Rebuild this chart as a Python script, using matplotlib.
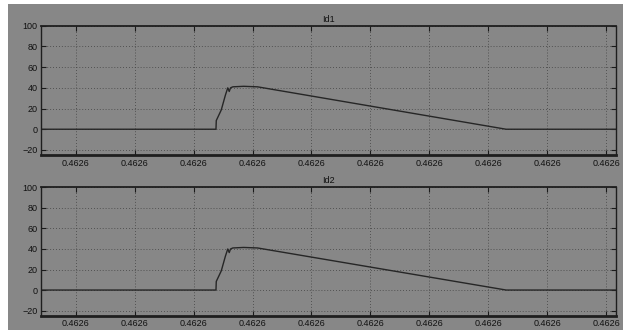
import matplotlib
matplotlib.use('Agg')
import matplotlib.pyplot as plt
from matplotlib.patches import Rectangle

# time axis in tick-spacing units (all ticks read 0.4626 on the scope)
t = [-0.59, 2.38, 2.385, 2.47, 2.54, 2.58, 2.605, 2.627, 2.666, 2.85, 3.085, 7.305, 9.17]
id1 = [0, 0, 8.4, 18.7, 33, 40, 36.5, 40, 41, 41.5, 41, 0, 0]
id2 = [0, 0, 8.4, 18.7, 33, 40, 36.5, 40, 41, 41.5, 41, 0, 0]
xticks = list(range(10))
xlabels = ['0.4626'] * 10
yticks = [-20, 0, 20, 40, 60, 80, 100]
titles = ['Id1', 'Id2']

bg = '#878787'
plt.rcParams['font.family'] = 'Liberation Sans'
fig = plt.figure(figsize=(6.23, 3.35), dpi=100, facecolor='white')
fig.patches.append(Rectangle((8 / 623, 5 / 335), 1, 326 / 335, transform=fig.transFigure,
                             facecolor=bg, edgecolor='none', zorder=-10))

positions = [[0.0658, 0.537, 0.923, 0.386], [0.0658, 0.0576, 0.923, 0.383]]
for pos, y, title in zip(positions, [id1, id2], titles):
    ax = fig.add_axes(pos)
    ax.set_facecolor(bg)
    ax.plot(t, y, color='#262626', lw=1.0)
    ax.set_xlim(-0.59, 9.17)
    ax.set_ylim(-25, 100)
    ax.set_xticks(xticks)
    ax.set_xticklabels(xlabels)
    ax.set_yticks(yticks)
    ax.grid(True, linestyle=(0, (1, 2.5)), color='#404040', lw=0.6)
    ax.tick_params(direction='in', length=3.5, width=0.8, color='#1a1a1a',
                   labelsize=6.5, labelcolor='#111111', pad=2.5,
                   top=True, right=True)
    for side, w in [('bottom', 2.0), ('top', 1.3), ('left', 1.0), ('right', 1.0)]:
        ax.spines[side].set_linewidth(w)
        ax.spines[side].set_color('#1e1e1e')
    ax.set_title(title, fontsize=6.5, color='#111111', pad=3)

fig.savefig('out.png', dpi=100, facecolor='white')
